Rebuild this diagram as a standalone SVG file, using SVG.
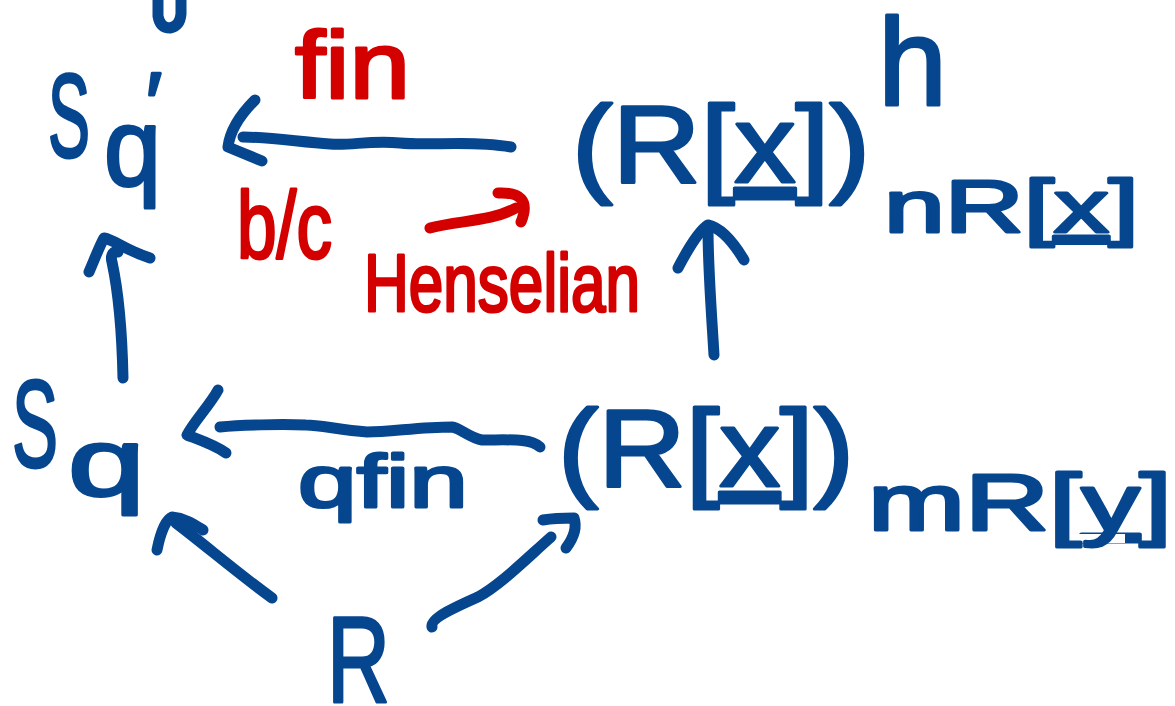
<svg xmlns="http://www.w3.org/2000/svg" width="1175" height="706" viewBox="0 0 1175 706">
<style>
.b{fill:#06468f;stroke:#06468f;stroke-width:3;stroke-linejoin:round;font-family:"Liberation Sans","DejaVu Sans",sans-serif}
.r{fill:#d40000;stroke:#d40000;stroke-width:3;stroke-linejoin:round;font-family:"Liberation Sans","DejaVu Sans",sans-serif}
.e{fill:none;stroke:#06468f;stroke-width:11;stroke-linecap:round;stroke-linejoin:round}
.er{fill:none;stroke:#d40000;stroke-width:11;stroke-linecap:round;stroke-linejoin:round}
.u{text-decoration:underline}
</style>
<rect width="1175" height="706" fill="#ffffff"/>
<g id="connectors">
  <path class="e" d="M158,0 L158,16 Q160,28 170,28 Q180,26 181,14 L181,0"/>
  <path class="e" d="M511,147 C470,140 430,146 400,143 C370,140 350,146 330,144 C300,142 270,137 243,137"/>
  <path class="e" d="M255,100 C240,115 230,130 228,147 L262,161"/>
  <path class="er" d="M430,228 C460,220 490,222 516,208"/>
  <path class="er" d="M498,193 C520,192 530,200 521,222"/>
  <path class="e" d="M714,355 C712,320 708,270 708,228"/>
  <path class="e" d="M678,268 C690,245 700,230 708,225 C722,228 735,245 744,260"/>
  <path class="e" d="M123,378 C122,330 118,290 112,262 C110,255 114,250 118,252"/>
  <path class="e" d="M89,272 C95,258 100,245 104,238 C115,240 125,250 150,258"/>
  <path class="e" d="M540,447 C530,438 510,440 482,440 C470,438 460,428 452,427 C420,427 390,432 367,432 C340,430 320,425 306,425 C280,424 240,425 220,427"/>
  <path class="e" d="M218,390 C210,405 195,420 187,435 C200,440 215,445 226,453"/>
  <path class="e" d="M272,598 C240,575 205,545 176,523"/>
  <path class="e" d="M157,550 C160,535 165,520 172,517 C185,518 195,525 203,530"/>
  <path class="e" d="M432,627 C430,618 460,605 478,597 C500,585 525,560 551,537"/>
  <path class="e" d="M543,520 C555,518 565,518 574,518 C578,530 572,540 566,548"/>
</g>
<g id="label-fin"><text class="r" x="295" y="98" font-size="95" textLength="115" lengthAdjust="spacingAndGlyphs">fin</text></g>
<g id="label-bc"><text class="r" x="237" y="258" font-size="95" textLength="95" lengthAdjust="spacingAndGlyphs">b/c</text></g>
<g id="label-henselian"><text class="r" x="364" y="311" font-size="82" textLength="276" lengthAdjust="spacingAndGlyphs">Henselian</text></g>
<g id="label-qfin"><text class="b" x="298" y="507" font-size="75" textLength="170" lengthAdjust="spacingAndGlyphs">qfin</text></g>
<g id="node-Sq-prime">
  <text class="b" x="48" y="157" font-size="118" textLength="42" lengthAdjust="spacingAndGlyphs">S</text>
  <text class="b" x="104" y="185" font-size="110" textLength="57" lengthAdjust="spacingAndGlyphs">q</text>
  <text class="b" x="146" y="132" font-size="85">′</text>
</g>
<g id="node-Rx-h">
  <text class="b" x="572" y="182" font-size="110" textLength="298" lengthAdjust="spacingAndGlyphs">(R[<tspan class="u">x</tspan>])</text>
  <text class="b" x="878" y="105" font-size="125" textLength="69" lengthAdjust="spacingAndGlyphs">h</text>
  <text class="b" x="884" y="232" font-size="75" textLength="255" lengthAdjust="spacingAndGlyphs">nR[<tspan class="u">x</tspan>]</text>
</g>
<g id="node-Sq">
  <text class="b" x="12" y="467" font-size="125" textLength="46" lengthAdjust="spacingAndGlyphs">S</text>
  <text class="b" x="68" y="495" font-size="95" textLength="77" lengthAdjust="spacingAndGlyphs">q</text>
</g>
<g id="node-Rx-m">
  <text class="b" x="558" y="486" font-size="110" textLength="296" lengthAdjust="spacingAndGlyphs">(R[<tspan class="u">x</tspan>])</text>
  <text class="b" x="868" y="530" font-size="80" textLength="304" lengthAdjust="spacingAndGlyphs">mR[<tspan class="u">y</tspan>]</text>
</g>
<g id="node-R">
  <text class="b" x="327" y="702" font-size="122" textLength="63" lengthAdjust="spacingAndGlyphs">R</text>
</g>
</svg>
